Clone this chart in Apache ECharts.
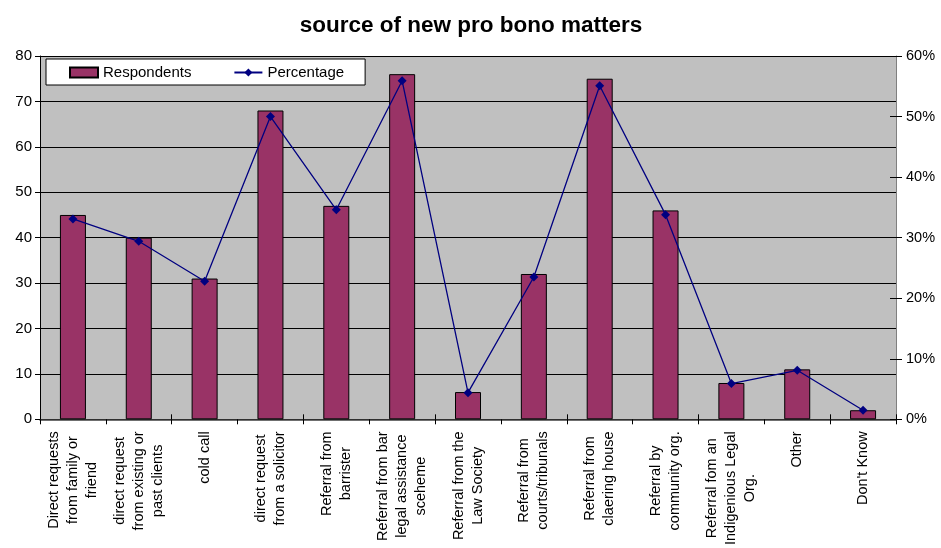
<!DOCTYPE html>
<html>
<head>
<meta charset="utf-8">
<script src="https://cdn.jsdelivr.net/npm/echarts@6/dist/echarts.min.js"></script>
<style>
  html, body { margin: 0; padding: 0; background: #fff; }
  #chart { width: 941px; height: 548px; }
</style>
</head>
<body>
<div id="chart"></div>
<script>
// Where new pro bono matters came from
const categories = [
  'Direct requests\nfrom family or\nfriend',
  'direct request\nfrom existing or\npast clients',
  'cold call',
  'direct request\nfrom a solicitor',
  'Referral from\nbarrister',
  'Referral from bar\nlegal assistance\nsceheme',
  'Referral from the\nLaw Society',
  'Referral from\ncourts/tribunals',
  'Referral from\nclaering house',
  'Referral by\ncommunity org.',
  'Referral fom an\nIndigenious Legal\nOrg.',
  'Other',
  "Don't Know"
];
const respondents = [45, 40, 31, 68, 47, 76, 6, 32, 75, 46, 8, 11, 2];
const percentage = [33.1, 29.4, 22.8, 50.0, 34.6, 55.9, 4.4, 23.5, 55.1, 33.8, 5.9, 8.1, 1.5];
const leftTicks = [0, 10, 20, 30, 40, 50, 60, 70, 80];
const rightTicks = [0, 10, 20, 30, 40, 50, 60];

const FONT = '"Liberation Sans", Arial, sans-serif';

const chart = echarts.init(document.getElementById('chart'), null, { renderer: 'canvas' });

chart.setOption({
  animation: false,
  backgroundColor: '#ffffff',
  textStyle: { fontFamily: FONT, color: '#000' },
  title: {
    text: 'source of new pro bono matters',
    left: 466,
    textAlign: 'center',
    top: 9,
    textStyle: { fontFamily: FONT, fontSize: 22.5, fontWeight: 'bold', color: '#000' }
  },
  legend: {
    left: 46,
    top: 59,
    orient: 'horizontal',
    backgroundColor: '#ffffff',
    borderColor: '#000',
    borderWidth: 1,
    padding: [6, 21, 5, 23],
    itemWidth: 28,
    itemHeight: 10,
    itemGap: 42,
    textStyle: { fontFamily: FONT, fontSize: 15, color: '#000' },
    data: [
      { name: 'Respondents', icon: 'rect' },
      { name: 'Percentage' }
    ]
  },
  grid: {
    left: 40,
    right: 45,
    top: 56,
    bottom: 128,
    show: true,
    backgroundColor: '#c0c0c0',
    borderWidth: 0
  },
  xAxis: [
    {
      type: 'category',
      data: categories,
      boundaryGap: true,
      axisLine: { show: true, lineStyle: { color: '#404040', width: 1.5 } },
      axisTick: { show: true, length: 5, inside: false, lineStyle: { color: '#000' } },
      axisLabel: {
        interval: 0,
        rotate: 90,
        margin: 12,
        fontFamily: FONT,
        fontSize: 14.5,
        lineHeight: 19,
        color: '#000',
        formatter: function (v) {
          return v.split('\n').map(function (s) { return '{c|' + s + '}'; }).join('\n');
        },
        rich: {
          c: { align: 'center', fontFamily: FONT, fontSize: 14.5, lineHeight: 19, color: '#000' }
        }
      }
    },
    {
      // inner half of the crossing category ticks
      type: 'category',
      data: categories,
      position: 'bottom',
      boundaryGap: true,
      axisLine: { show: false },
      axisTick: { show: true, length: 5, inside: true, lineStyle: { color: '#000' } },
      axisLabel: { show: false },
      splitLine: { show: false }
    }
  ],
  yAxis: [
    {
      type: 'value',
      min: leftTicks[0],
      max: leftTicks[leftTicks.length - 1],
      interval: 10,
      position: 'left',
      axisLine: { show: true, lineStyle: { color: '#000', width: 1 } },
      axisTick: { show: true, length: 5, lineStyle: { color: '#000' } },
      axisLabel: { margin: 8, fontFamily: FONT, fontSize: 15, color: '#000' },
      splitLine: { show: true, lineStyle: { color: '#000', width: 1 } }
    },
    {
      type: 'value',
      min: rightTicks[0],
      max: rightTicks[rightTicks.length - 1],
      interval: 10,
      position: 'right',
      axisLine: { show: true, lineStyle: { color: '#808080', width: 1 } },
      axisTick: { show: true, length: 6, lineStyle: { color: '#000' } },
      axisLabel: {
        margin: 10,
        fontFamily: FONT,
        fontSize: 14.5,
        color: '#000',
        formatter: '{value}%'
      },
      splitLine: { show: false }
    },
    {
      // inner half of the crossing percentage ticks
      type: 'value',
      min: rightTicks[0],
      max: rightTicks[rightTicks.length - 1],
      interval: 10,
      position: 'right',
      axisLine: { show: false },
      axisTick: { show: true, inside: true, length: 6, lineStyle: { color: '#000' } },
      axisLabel: { show: false },
      splitLine: { show: false }
    }
  ],
  series: [
    {
      name: 'Respondents',
      type: 'bar',
      xAxisIndex: 0,
      yAxisIndex: 0,
      data: respondents,
      barWidth: 26,
      itemStyle: { color: '#993366', borderColor: '#000', borderWidth: 1 }
    },
    {
      name: 'Percentage',
      type: 'line',
      xAxisIndex: 0,
      yAxisIndex: 1,
      data: percentage,
      symbol: 'diamond',
      symbolSize: 9,
      showSymbol: true,
      lineStyle: { color: '#000080', width: 1.3 },
      itemStyle: { color: '#000080' },
      z: 5
    }
  ]
});
</script>
</body>
</html>
